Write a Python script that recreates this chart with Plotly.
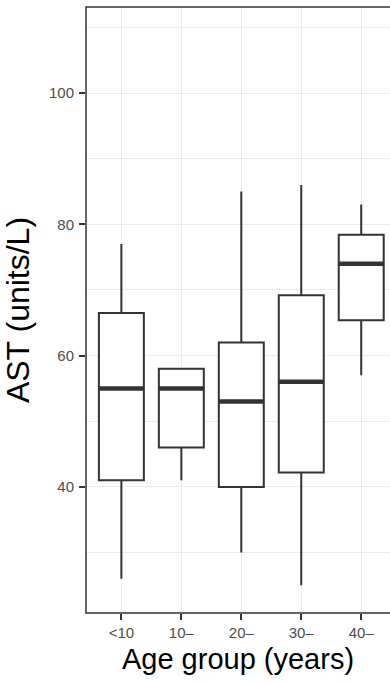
import plotly.graph_objects as go

# AST summary statistics per age group
groups = ["<10", "10\u2013", "20\u2013", "30\u2013", "40\u2013"]
lower_whisker = [26, 41, 30, 25, 57]
q1 = [41, 46, 40, 42.2, 65.4]
median = [55, 55, 53, 56, 74]
q3 = [66.5, 58, 62, 69.2, 78.4]
upper_whisker = [77, 58, 85, 86, 83]

y_ticks = [40, 60, 80, 100]
y_minor = [30, 50, 70, 90, 110]

positions = list(range(1, len(groups) + 1))
box_width = 0.75
ink = "#333333"

fig = go.Figure()
fig.add_trace(go.Box(
    x=positions, q1=q1, median=median, q3=q3,
    lowerfence=lower_whisker, upperfence=upper_whisker,
    width=box_width, whiskerwidth=0, boxpoints=False,
    fillcolor="white", line=dict(color=ink, width=2),
    showlegend=False, hoverinfo="skip",
))

# thicker median bars
mx, my = [], []
for p, m in zip(positions, median):
    mx += [p - box_width / 2, p + box_width / 2, None]
    my += [m, m, None]
fig.add_trace(go.Scatter(
    x=mx, y=my, mode="lines", line=dict(color=ink, width=4.5),
    showlegend=False, hoverinfo="skip",
))

fig.update_layout(
    width=390, height=683,
    margin=dict(l=86, r=0, t=7, b=70),
    paper_bgcolor="white", plot_bgcolor="white",
    font=dict(family="Liberation Sans, Arial, sans-serif", color="black"),
    shapes=[dict(type="rect", xref="paper", yref="paper",
                 x0=0, x1=1.3, y0=0, y1=1,
                 line=dict(color=ink, width=1.5), layer="above")],
)
fig.update_xaxes(
    range=[0.41, 5.48], tickvals=positions, ticktext=groups,
    showgrid=True, gridcolor="#EBEBEB", gridwidth=1.2, zeroline=False,
    ticks="outside", ticklen=6, tickwidth=1.5, tickcolor=ink,
    tickfont=dict(size=15, color="#4D4D4D"), automargin=False,
    title=dict(text="Age group (years)", font=dict(size=29, color="black"), standoff=8),
)
fig.update_yaxes(
    range=[20.79, 113.1], tickvals=y_ticks,
    showgrid=True, gridcolor="#EBEBEB", gridwidth=1.2, zeroline=False,
    minor=dict(tickvals=y_minor, showgrid=True, gridcolor="#EBEBEB", gridwidth=0.7, ticklen=0),
    ticks="outside", ticklen=6, tickwidth=1.5, tickcolor=ink, ticklabelstandoff=2,
    tickfont=dict(size=15, color="#4D4D4D"), automargin=False,
    title=dict(text="AST (units/L)", font=dict(size=32, color="black"), standoff=9),
)

fig.write_html("out.html")
